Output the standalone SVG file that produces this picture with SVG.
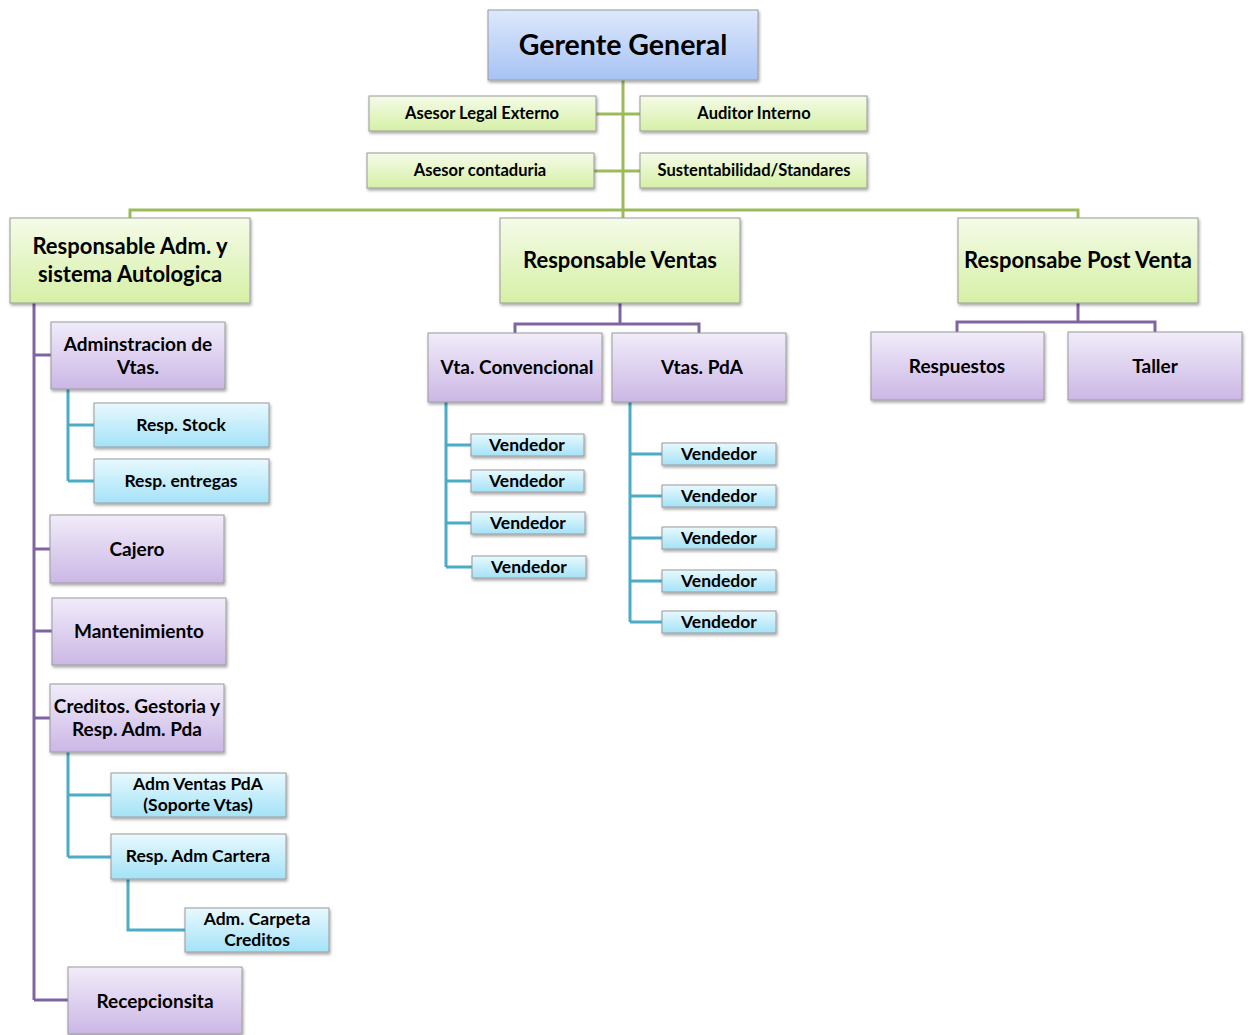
<svg xmlns="http://www.w3.org/2000/svg" width="1249" height="1035" viewBox="0 0 1249 1035">
<defs>
<linearGradient id="gBlue" x1="0" y1="0" x2="0" y2="1"><stop offset="0" stop-color="#dde8fc"/><stop offset="1" stop-color="#a7c3f4"/></linearGradient>
<linearGradient id="gGreen" x1="0" y1="0" x2="0" y2="1"><stop offset="0" stop-color="#f5fbe8"/><stop offset="1" stop-color="#d5f0a6"/></linearGradient>
<linearGradient id="gPurple" x1="0" y1="0" x2="0" y2="1"><stop offset="0" stop-color="#f1ecfa"/><stop offset="1" stop-color="#cbb7e5"/></linearGradient>
<linearGradient id="gCyan" x1="0" y1="0" x2="0" y2="1"><stop offset="0" stop-color="#e8f9fe"/><stop offset="1" stop-color="#a4e2f7"/></linearGradient>
<filter id="sh" x="-10%" y="-10%" width="120%" height="130%"><feDropShadow dx="1" dy="2" stdDeviation="1.5" flood-color="#000" flood-opacity="0.35"/></filter>
</defs>
<style>
rect{stroke:#9a9a9a;stroke-width:1;filter:url(#sh)}
.b{fill:url(#gBlue)}
.g{fill:url(#gGreen)}
.p{fill:url(#gPurple)}
.c{fill:url(#gCyan)}
text{font-family:Lato,"Open Sans","Liberation Sans",sans-serif;font-weight:bold;fill:#000;text-anchor:middle;dominant-baseline:central}
.lg{stroke:#9bbb59;stroke-width:3;fill:none}
.lp{stroke:#8064a2;stroke-width:3;fill:none}
.lc{stroke:#4bacc6;stroke-width:3;fill:none}
.s1{font-size:16.5px}
.s2{font-size:22px}
.s3{font-size:19px}
.s4{font-size:17.5px}
</style>
<g id="connectors">
<path class="lg" d="M623 80V218M596 114H640M594 171H640M130 218V210H1078V218M623 210V218"/>
<path class="lp" d="M34 303V1000M34 355H51M34 549H50M34 631H52M34 718H50M34 1000H68"/>
<path class="lp" d="M620 303V324M515 333V324H699V333"/>
<path class="lp" d="M1078 303V322M957 332V322H1155V332"/>
<path class="lc" d="M68 389V481M68 425H94M68 481H94"/>
<path class="lc" d="M68 752V857M68 795H111M68 857H111M128 879V930H185"/>
<path class="lc" d="M446 402V567M446 445H471M446 481H471M446 523H471M446 567H472"/>
<path class="lc" d="M630 402V622M630 454H662M630 496H662M630 538H662M630 581H662M630 622H662"/>
</g>
<g id="n-gerente"><rect class="b" x="488" y="10" width="270" height="70"/><text x="623" y="43.5" font-size="28.5">Gerente General</text></g>
<g id="n-legal"><rect class="g" x="369" y="96" width="227" height="35"/><text class="s1" x="482" y="112.5">Asesor Legal Externo</text></g>
<g id="n-auditor"><rect class="g" x="640" y="96" width="227" height="35"/><text class="s1" x="754" y="112.5">Auditor Interno</text></g>
<g id="n-contaduria"><rect class="g" x="367" y="153" width="227" height="35"/><text class="s1" x="480" y="169.5">Asesor contaduria</text></g>
<g id="n-sust"><rect class="g" x="640" y="153" width="227" height="35"/><text class="s1" x="754" y="169.5">Sustentabilidad/Standares</text></g>
<g id="n-respadm"><rect class="g" x="10" y="218" width="240" height="85"/><text class="s2" x="130" y="245">Responsable Adm. y</text><text class="s2" x="130" y="273">sistema Autologica</text></g>
<g id="n-respventas"><rect class="g" x="500" y="218" width="240" height="85"/><text class="s2" x="620" y="259">Responsable Ventas</text></g>
<g id="n-postventa"><rect class="g" x="958" y="218" width="240" height="85"/><text class="s2" x="1078" y="259">Responsabe Post Venta</text></g>
<g id="n-admvtas"><rect class="p" x="51" y="322" width="174" height="67"/><text class="s3" x="138" y="343">Adminstracion  de</text><text class="s3" x="138" y="366">Vtas.</text></g>
<g id="n-stock"><rect class="c" x="94" y="403" width="175" height="44"/><text class="s4" x="181" y="424">Resp. Stock</text></g>
<g id="n-entregas"><rect class="c" x="94" y="459" width="175" height="44"/><text class="s4" x="181" y="480">Resp. entregas</text></g>
<g id="n-cajero"><rect class="p" x="50" y="515" width="174" height="68"/><text class="s3" x="137" y="548">Cajero</text></g>
<g id="n-mant"><rect class="p" x="52" y="598" width="174" height="67"/><text class="s3" x="139" y="630">Mantenimiento</text></g>
<g id="n-creditos"><rect class="p" x="50" y="684" width="174" height="68"/><text class="s3" x="137" y="705">Creditos. Gestoria y</text><text class="s3" x="137" y="728">Resp. Adm. Pda</text></g>
<g id="n-admventaspda"><rect class="c" x="111" y="773" width="175" height="44"/><text class="s4" x="198" y="783">Adm Ventas PdA</text><text class="s4" x="198" y="804">(Soporte Vtas)</text></g>
<g id="n-cartera"><rect class="c" x="111" y="834" width="175" height="45"/><text class="s4" x="198" y="855">Resp. Adm Cartera</text></g>
<g id="n-carpeta"><rect class="c" x="185" y="908" width="144" height="44"/><text class="s4" x="257" y="918">Adm. Carpeta</text><text class="s4" x="257" y="939">Creditos</text></g>
<g id="n-recep"><rect class="p" x="68" y="967" width="174" height="67"/><text class="s3" x="155" y="1000">Recepcionsita</text></g>
<g id="n-vtaconv"><rect class="p" x="428" y="333" width="174" height="69"/><text class="s3" x="517" y="366">Vta. Convencional</text></g>
<g id="n-vtaspda"><rect class="p" x="612" y="333" width="174" height="69"/><text class="s3" x="702" y="366">Vtas. PdA</text></g>
<g id="n-v1"><rect class="c" x="471" y="434" width="113" height="22"/><text class="s4" x="527" y="444">Vendedor</text></g>
<g id="n-v2"><rect class="c" x="471" y="470" width="113" height="22"/><text class="s4" x="527" y="480">Vendedor</text></g>
<g id="n-v3"><rect class="c" x="471" y="512" width="114" height="22"/><text class="s4" x="528" y="522">Vendedor</text></g>
<g id="n-v4"><rect class="c" x="472" y="556" width="114" height="22"/><text class="s4" x="529" y="566">Vendedor</text></g>
<g id="n-v5"><rect class="c" x="662" y="443" width="114" height="22"/><text class="s4" x="719" y="453">Vendedor</text></g>
<g id="n-v6"><rect class="c" x="662" y="485" width="114" height="22"/><text class="s4" x="719" y="495">Vendedor</text></g>
<g id="n-v7"><rect class="c" x="662" y="527" width="114" height="22"/><text class="s4" x="719" y="537">Vendedor</text></g>
<g id="n-v8"><rect class="c" x="662" y="570" width="114" height="22"/><text class="s4" x="719" y="580">Vendedor</text></g>
<g id="n-v9"><rect class="c" x="662" y="611" width="114" height="22"/><text class="s4" x="719" y="621">Vendedor</text></g>
<g id="n-respuestos"><rect class="p" x="871" y="332" width="173" height="68"/><text class="s3" x="957" y="365">Respuestos</text></g>
<g id="n-taller"><rect class="p" x="1068" y="332" width="174" height="68"/><text class="s3" x="1155" y="365">Taller</text></g>
</svg>
